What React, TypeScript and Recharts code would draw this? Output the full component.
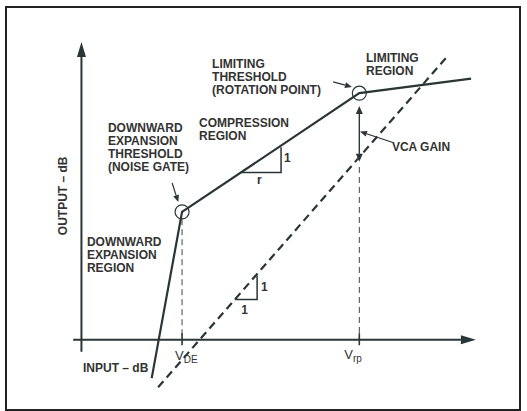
import React from "react";
import {
  ComposedChart,
  Line,
  XAxis,
  YAxis,
  ReferenceLine,
  ReferenceDot,
} from "recharts";

// transfer curve: expansion -> compression -> limiting
const transferCurve = [
  { x: 22, y: -10.5 },
  { x: 31.5, y: 35 },
  { x: 87, y: 67.5 },
  { x: 122, y: 71.5 },
];
// 1:1 reference (unity gain)
const unityLine = [
  { x: 24, y: -13 },
  { x: 115, y: 78 },
];
const thresholds = [
  { name: "DE", x: 31.5, y: 35, dashTop: 33 },
  { name: "rp", x: 87, y: 67.5, dashTop: 47.3 },
];
const compressionSlope = [
  { x: 50, y: 45.8 },
  { x: 62.5, y: 45.8 },
  { x: 62.5, y: 52.7 },
];
const unitySlope = [
  { x: 48, y: 11 },
  { x: 55, y: 11 },
  { x: 55, y: 17.6 },
];
const yAxisLine = [
  { x: 0, y: -3.3 },
  { x: 0, y: 81.5 },
];
const xAxisLine = [
  { x: -2.6, y: 0 },
  { x: 123.5, y: 0 },
];
const vcaGain = [
  { x: 87, y: 48.7 },
  { x: 87, y: 64 },
];
const pointers = [
  [{ x: 28.4, y: 42.9 }, { x: 30.3, y: 37.7 }],
  [{ x: 78.8, y: 70.6 }, { x: 84.7, y: 69.2 }],
  [{ x: 97.5, y: 54 }, { x: 87.2, y: 57 }],
];
const labels = [
  { x: 8.3, y: 57, lines: ["DOWNWARD", "EXPANSION", "THRESHOLD", "(NOISE GATE)"] },
  { x: 36.8, y: 58.3, lines: ["COMPRESSION", "REGION"] },
  { x: 40.9, y: 74.5, lines: ["LIMITING", "THRESHOLD", "(ROTATION POINT)"] },
  { x: 89.1, y: 76.1, lines: ["LIMITING", "REGION"] },
  { x: 97.2, y: 51.7, lines: ["VCA GAIN"] },
  { x: 1.7, y: 25.7, lines: ["DOWNWARD", "EXPANSION", "REGION"] },
  { x: 0.5, y: -8.8, lines: ["INPUT – dB"] },
  { x: 63.4, y: 48.7, lines: ["1"] },
  { x: 55, y: 42.6, lines: ["r"] },
  { x: 56.2, y: 13.4, lines: ["1"] },
  { x: 50, y: 7.1, lines: ["1"] },
];
const outputLabel = { x: -4.5, y: 39.4, text: "OUTPUT – dB" };
const vLabels = [
  { x: 29.3, y: -5.6, sub: "DE" },
  { x: 82.3, y: -5.3, sub: "rp" },
];

const INK = "#2a3535";
const TEXT = "#333";
const FONT = "'Liberation Sans', Arial, sans-serif";

function arrowHead(x1: number, y1: number, x2: number, y2: number, len: number, half: number) {
  const d = Math.hypot(x2 - x1, y2 - y1) || 1;
  const ux = (x2 - x1) / d;
  const uy = (y2 - y1) / d;
  const bx = x2 - ux * len;
  const by = y2 - uy * len;
  const pts = `${x2},${y2} ${bx - uy * half},${by + ux * half} ${bx + uy * half},${by - ux * half}`;
  return { bx, by, pts };
}

function Arrow(props: any) {
  const { x1, y1, x2, y2, len = 8, half = 3, both = false, width = 1.3 } = props;
  const end = arrowHead(x1, y1, x2, y2, len, half);
  const start = both ? arrowHead(x2, y2, x1, y1, len, half) : null;
  return (
    <g>
      <line
        x1={start ? start.bx : x1}
        y1={start ? start.by : y1}
        x2={end.bx}
        y2={end.by}
        stroke={INK}
        strokeWidth={width}
      />
      <polygon points={end.pts} fill={INK} />
      {start && <polygon points={start.pts} fill={INK} />}
    </g>
  );
}

const textStyle = {
  fontFamily: FONT,
  fontWeight: 700,
  fontSize: 12,
  fill: TEXT,
};

export default function App() {
  return (
    <div style={{ position: "absolute", left: 0, top: 0, width: 527, height: 411, background: "#fff" }}>
      <ComposedChart width={527} height={411} margin={{ top: 0, right: 0, bottom: 0, left: 0 }}>
        <XAxis type="number" dataKey="x" domain={[-25.5, 139.5]} hide allowDataOverflow />
        <YAxis type="number" dataKey="y" domain={[-19.5, 93]} hide allowDataOverflow />

        <ReferenceLine
          segment={yAxisLine}
          ifOverflow="visible"
          shape={(p: any) => <Arrow {...p} len={15} half={4.5} width={2} />}
        />
        <ReferenceLine
          segment={xAxisLine}
          ifOverflow="visible"
          shape={(p: any) => <Arrow {...p} len={15} half={4.5} width={2} />}
        />

        {thresholds.map((t) => (
          <ReferenceLine
            key={"d" + t.name}
            segment={[
              { x: t.x, y: t.dashTop },
              { x: t.x, y: 0 },
            ]}
            stroke="#444"
            strokeWidth={1}
            strokeDasharray="6 4"
            ifOverflow="visible"
          />
        ))}
        {thresholds.map((t) => (
          <ReferenceLine
            key={"t" + t.name}
            segment={[
              { x: t.x, y: 1.8 },
              { x: t.x, y: -1.5 },
            ]}
            stroke={INK}
            strokeWidth={1.6}
            ifOverflow="visible"
          />
        ))}

        <Line
          data={unityLine}
          dataKey="y"
          type="linear"
          stroke={INK}
          strokeWidth={2.2}
          strokeDasharray="8 5"
          dot={false}
          activeDot={false}
          isAnimationActive={false}
        />
        <Line
          data={transferCurve}
          dataKey="y"
          type="linear"
          stroke={INK}
          strokeWidth={2.2}
          dot={false}
          activeDot={false}
          isAnimationActive={false}
        />
        <Line
          data={compressionSlope}
          dataKey="y"
          type="linear"
          stroke={INK}
          strokeWidth={1.5}
          dot={false}
          activeDot={false}
          isAnimationActive={false}
        />
        <Line
          data={unitySlope}
          dataKey="y"
          type="linear"
          stroke={INK}
          strokeWidth={1.5}
          dot={false}
          activeDot={false}
          isAnimationActive={false}
        />

        {thresholds.map((t) => (
          <ReferenceDot
            key={"c" + t.name}
            x={t.x}
            y={t.y}
            r={7}
            fill="none"
            stroke={INK}
            strokeWidth={1.2}
            ifOverflow="visible"
          />
        ))}

        <ReferenceLine
          segment={vcaGain}
          ifOverflow="visible"
          shape={(p: any) => <Arrow {...p} len={8} half={3.5} both width={1.4} />}
        />
        {pointers.map((seg, i) => (
          <ReferenceLine
            key={"p" + i}
            segment={seg}
            ifOverflow="visible"
            shape={(p: any) => <Arrow {...p} len={7} half={3} width={1.2} />}
          />
        ))}

        {labels.map((l, i) => (
          <ReferenceDot
            key={"l" + i}
            x={l.x}
            y={l.y}
            r={0}
            ifOverflow="visible"
            shape={(p: any) => (
              <text x={p.cx} y={p.cy} style={textStyle}>
                {l.lines.map((s, j) => (
                  <tspan key={j} x={p.cx} dy={j === 0 ? 0 : 13.3}>
                    {s}
                  </tspan>
                ))}
              </text>
            )}
          />
        ))}
        {vLabels.map((v) => (
          <ReferenceDot
            key={"v" + v.sub}
            x={v.x}
            y={v.y}
            r={0}
            ifOverflow="visible"
            shape={(p: any) => (
              <text x={p.cx} y={p.cy} style={{ ...textStyle, fontWeight: 400, fontSize: 13 }}>
                V
                <tspan dy={3} style={{ fontSize: 10 }}>
                  {v.sub}
                </tspan>
              </text>
            )}
          />
        ))}
        <ReferenceDot
          x={outputLabel.x}
          y={outputLabel.y}
          r={0}
          ifOverflow="visible"
          shape={(p: any) => (
            <text
              x={p.cx}
              y={p.cy}
              textAnchor="middle"
              transform={`rotate(-90 ${p.cx} ${p.cy})`}
              style={textStyle}
            >
              {outputLabel.text}
            </text>
          )}
        />
      </ComposedChart>
      <div
        style={{
          position: "absolute",
          left: 5,
          top: 6,
          width: 516,
          height: 405,
          border: "2px solid #222",
          boxSizing: "border-box",
          pointerEvents: "none",
        }}
      />
    </div>
  );
}
